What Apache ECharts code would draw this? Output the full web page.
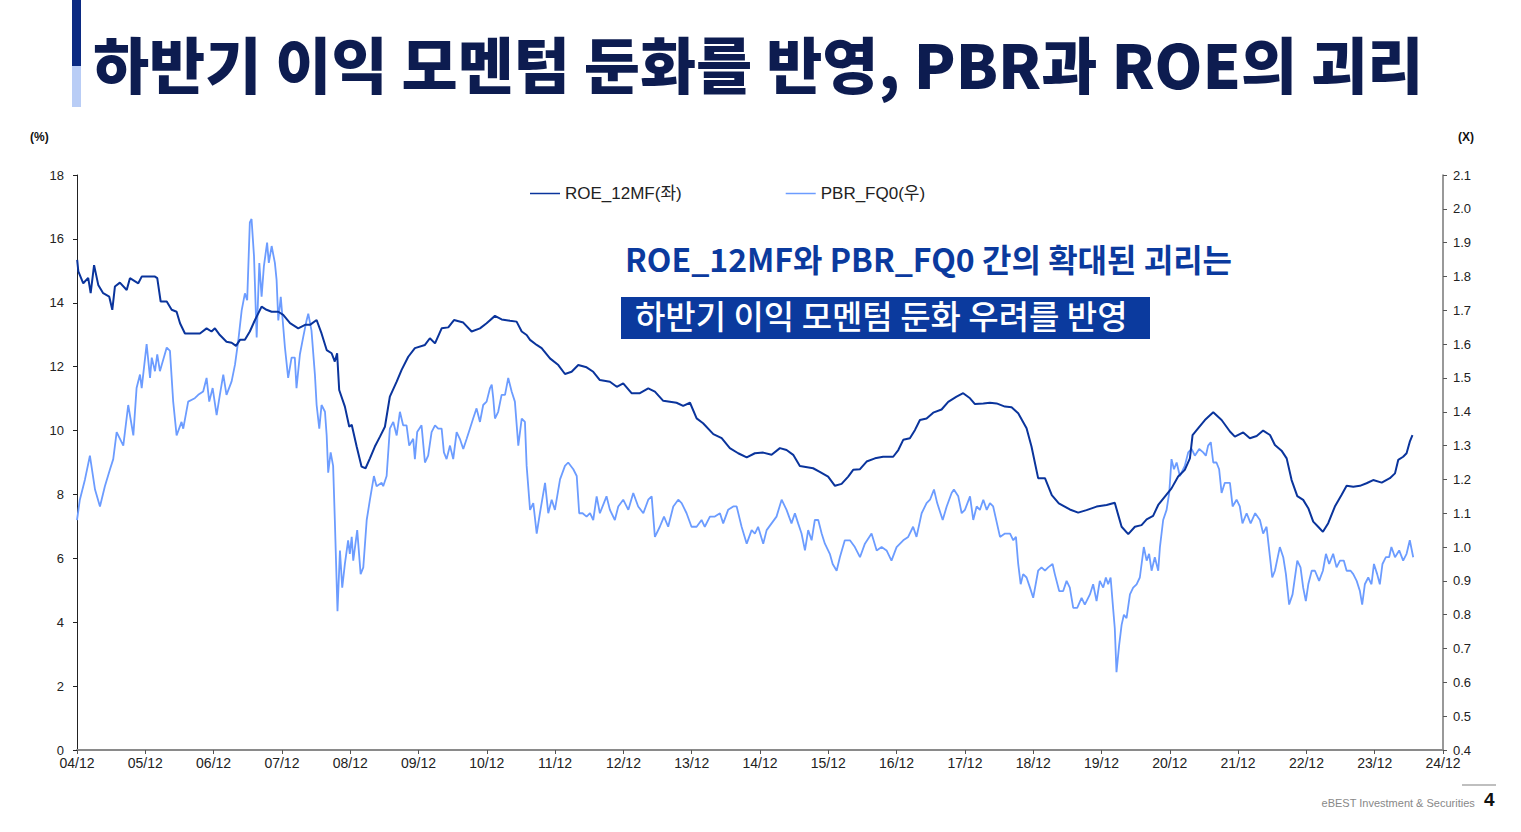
<!DOCTYPE html>
<html><head><meta charset="utf-8">
<script src="https://cdn.jsdelivr.net/npm/echarts@6/dist/echarts.min.js"></script>
<style>html,body{margin:0;padding:0;background:#fff;}#c{width:1521px;height:832px;}</style>
</head><body><div id="c"></div>
<script>
const xTickLabels = ['04/12','05/12','06/12','07/12','08/12','09/12','10/12','11/12','12/12','13/12','14/12','15/12','16/12','17/12','18/12','19/12','20/12','21/12','22/12','23/12','24/12'];
const leftTicks = [0,2,4,6,8,10,12,14,16,18];
const rightTicks = ['0.4','0.5','0.6','0.7','0.8','0.9','1.0','1.1','1.2','1.3','1.4','1.5','1.6','1.7','1.8','1.9','2.0','2.1'];

const roeDates = ['2004-12-02','2004-12-08','2005-01-04','2005-01-30','2005-02-13','2005-03-01','2005-03-23','2005-04-19','2005-05-21','2005-06-07','2005-06-21','2005-07-17','2005-08-23','2005-09-10','2005-10-24','2005-11-12','2006-01-22','2006-02-04','2006-02-22','2006-03-24','2006-04-20','2006-05-16','2006-06-04','2006-06-30','2006-08-14','2006-09-19','2006-10-24','2006-11-20','2006-12-08','2007-01-04','2007-02-09','2007-03-06','2007-03-29','2007-04-20','2007-05-16','2007-06-12','2007-07-09','2007-08-14','2007-09-10','2007-10-07','2007-11-12','2007-12-08','2008-01-14','2008-02-27','2008-04-03','2008-04-29','2008-06-04','2008-06-30','2008-07-27','2008-08-23','2008-09-10','2008-09-22','2008-10-03','2008-11-03','2008-11-26','2008-12-09','2009-01-05','2009-02-01','2009-02-22','2009-03-15','2009-04-11','2009-05-08','2009-06-04','2009-06-30','2009-08-06','2009-09-02','2009-10-07','2009-11-12','2010-01-05','2010-02-01','2010-02-28','2010-04-03','2010-05-08','2010-06-08','2010-07-27','2010-09-11','2010-10-25','2010-11-30','2011-01-14','2011-02-19','2011-04-03','2011-05-08','2011-06-05','2011-07-01','2011-07-19','2011-08-24','2011-09-20','2011-11-04','2011-12-18','2012-01-23','2012-02-28','2012-04-03','2012-05-17','2012-06-22','2012-07-27','2012-09-20','2012-10-26','2012-11-30','2013-01-14','2013-02-28','2013-04-12','2013-05-17','2013-07-01','2013-08-06','2013-09-11','2013-10-16','2013-11-22','2013-12-27','2014-02-01','2014-03-25','2014-05-09','2014-06-22','2014-08-06','2014-09-21','2014-11-04','2014-12-18','2015-02-02','2015-03-16','2015-04-21','2015-05-26','2015-07-01','2015-09-11','2015-10-16','2015-11-30','2016-01-06','2016-02-11','2016-03-16','2016-04-12','2016-05-18','2016-06-23','2016-08-07','2016-09-20','2016-11-13','2016-12-10','2017-01-06','2017-02-11','2017-03-08','2017-04-04','2017-05-09','2017-06-14','2017-07-28','2017-09-03','2017-10-17','2017-11-22','2017-12-28','2018-01-24','2018-03-08','2018-04-13','2018-05-18','2018-07-02','2018-08-07','2018-09-12','2018-10-26','2018-11-22','2018-12-27','2019-02-03','2019-03-09','2019-04-16','2019-06-14','2019-07-28','2019-09-12','2019-11-05','2019-12-28','2020-02-11','2020-02-29','2020-03-17','2020-04-22','2020-05-27','2020-07-02','2020-07-29','2020-09-03','2020-09-30','2020-11-05','2020-12-10','2021-01-15','2021-02-20','2021-03-17','2021-04-01','2021-04-30','2021-06-06','2021-07-20','2021-09-04','2021-10-18','2021-11-14','2021-12-28','2022-02-03','2022-03-09','2022-04-13','2022-05-19','2022-06-15','2022-07-20','2022-08-17','2022-09-13','2022-10-13','2022-11-14','2022-12-11','2023-01-07','2023-02-03','2023-02-28','2023-03-26','2023-05-01','2023-06-06','2023-07-03','2023-08-08','2023-09-13','2023-10-18','2023-11-23','2024-01-08','2024-02-21','2024-03-18','2024-04-05','2024-05-01','2024-05-19','2024-06-06','2024-06-20'];
const roeValues = [15.34,14.98,14.61,14.78,14.30,15.18,14.56,14.30,14.19,13.78,14.51,14.63,14.40,14.77,14.61,14.82,14.82,14.77,14.04,14.04,13.78,13.72,13.36,13.04,13.04,13.04,13.20,13.10,13.20,12.99,12.78,12.75,12.65,12.84,12.84,13.10,13.46,13.88,13.78,13.72,13.72,13.62,13.36,13.20,13.31,13.31,13.46,13.04,12.52,12.42,12.16,12.42,11.27,10.75,10.12,10.18,9.50,8.87,8.82,9.13,9.50,9.81,10.12,11.06,11.53,11.90,12.31,12.58,12.68,12.89,12.73,13.20,13.23,13.46,13.38,13.10,13.20,13.36,13.59,13.48,13.44,13.41,13.10,12.99,12.84,12.68,12.58,12.26,12.05,11.77,11.84,12.05,11.98,11.84,11.58,11.53,11.37,11.48,11.17,11.17,11.32,11.22,10.93,10.90,10.87,10.77,10.87,10.38,10.23,9.89,9.76,9.45,9.29,9.16,9.29,9.31,9.24,9.45,9.39,9.24,8.89,8.82,8.71,8.56,8.27,8.33,8.56,8.77,8.79,9.03,9.13,9.18,9.18,9.39,9.71,9.76,10.02,10.33,10.38,10.56,10.66,10.90,11.06,11.17,11.01,10.83,10.85,10.87,10.85,10.75,10.73,10.54,10.07,9.50,8.51,8.51,7.98,7.72,7.53,7.43,7.51,7.62,7.67,7.74,7.36,6.99,6.76,6.99,7.04,7.22,7.33,7.67,7.93,8.19,8.56,8.77,9.13,9.86,10.07,10.33,10.57,10.33,9.97,9.81,9.94,9.76,9.83,10.00,9.86,9.55,9.37,9.13,8.45,7.95,7.83,7.57,7.15,6.99,6.83,7.10,7.62,7.98,8.27,8.24,8.27,8.35,8.45,8.37,8.51,8.66,9.08,9.18,9.29,9.65,9.86];

const pbrDates = ['2004-12-01','2004-12-16','2005-01-13','2005-02-09','2005-03-06','2005-04-02','2005-04-28','2005-05-25','2005-06-12','2005-06-30','2005-07-26','2005-08-05','2005-09-01','2005-09-28','2005-10-15','2005-11-03','2005-11-12','2005-12-08','2005-12-26','2006-01-05','2006-01-22','2006-02-04','2006-02-18','2006-03-24','2006-04-11','2006-04-28','2006-05-16','2006-06-12','2006-06-21','2006-07-17','2006-08-22','2006-09-10','2006-10-06','2006-10-24','2006-11-08','2006-11-26','2006-12-17','2007-01-04','2007-01-22','2007-02-09','2007-03-06','2007-03-24','2007-04-11','2007-04-29','2007-05-16','2007-05-28','2007-06-12','2007-06-21','2007-07-04','2007-07-18','2007-08-02','2007-08-14','2007-08-26','2007-09-13','2007-09-22','2007-10-07','2007-10-24','2007-11-03','2007-11-12','2007-11-25','2007-12-17','2008-01-04','2008-01-22','2008-02-09','2008-02-18','2008-03-06','2008-03-23','2008-04-11','2008-04-20','2008-05-07','2008-05-25','2008-06-04','2008-06-18','2008-06-30','2008-07-18','2008-07-27','2008-08-05','2008-08-18','2008-09-01','2008-09-10','2008-09-24','2008-10-07','2008-10-19','2008-11-03','2008-11-20','2008-11-29','2008-12-09','2008-12-17','2009-01-08','2009-01-26','2009-02-10','2009-02-28','2009-03-15','2009-04-06','2009-04-20','2009-05-17','2009-05-25','2009-06-13','2009-06-30','2009-07-18','2009-08-06','2009-08-23','2009-09-10','2009-09-28','2009-10-12','2009-11-03','2009-11-12','2009-11-24','2009-12-17','2010-01-05','2010-01-22','2010-02-10','2010-02-28','2010-03-15','2010-04-03','2010-04-15','2010-04-29','2010-05-17','2010-06-04','2010-06-22','2010-07-09','2010-07-27','2010-08-15','2010-09-02','2010-09-19','2010-10-07','2010-10-25','2010-11-12','2010-11-30','2010-12-18','2010-12-27','2011-01-05','2011-01-14','2011-02-01','2011-02-19','2011-03-07','2011-03-24','2011-04-12','2011-04-29','2011-05-17','2011-06-05','2011-06-22','2011-07-01','2011-07-19','2011-08-06','2011-08-24','2011-09-11','2011-10-08','2011-10-25','2011-11-13','2011-11-30','2011-12-27','2012-01-23','2012-02-10','2012-03-07','2012-03-25','2012-04-08','2012-04-26','2012-05-17','2012-06-05','2012-06-22','2012-07-10','2012-07-27','2012-09-02','2012-09-20','2012-10-16','2012-11-04','2012-11-30','2012-12-27','2013-01-23','2013-02-19','2013-03-16','2013-04-12','2013-04-30','2013-05-17','2013-06-13','2013-07-05','2013-07-27','2013-08-24','2013-09-20','2013-10-08','2013-11-04','2013-11-30','2013-12-27','2014-01-23','2014-02-10','2014-03-07','2014-04-03','2014-04-30','2014-05-17','2014-06-13','2014-07-10','2014-07-28','2014-08-24','2014-09-21','2014-10-17','2014-11-04','2014-11-21','2014-12-18','2015-01-06','2015-02-02','2015-02-28','2015-03-25','2015-04-21','2015-05-17','2015-06-05','2015-06-22','2015-07-10','2015-07-28','2015-08-15','2015-09-03','2015-09-20','2015-10-08','2015-10-26','2015-11-13','2015-12-09','2015-12-24','2016-01-15','2016-02-02','2016-02-28','2016-03-25','2016-04-21','2016-05-18','2016-06-14','2016-07-19','2016-08-16','2016-09-12','2016-10-08','2016-11-04','2016-12-01','2017-01-06','2017-02-02','2017-02-28','2017-03-16','2017-04-13','2017-05-09','2017-05-27','2017-06-18','2017-07-05','2017-08-04','2017-08-25','2017-09-21','2017-10-03','2017-10-26','2017-11-14','2017-12-01','2017-12-28','2018-01-15','2018-02-03','2018-02-20','2018-03-08','2018-03-26','2018-04-13','2018-04-30','2018-06-06','2018-07-02','2018-07-29','2018-08-16','2018-08-30','2018-09-12','2018-09-25','2018-10-08','2018-10-26','2018-11-14','2018-12-01','2018-12-27','2019-01-15','2019-02-03','2019-02-20','2019-03-13','2019-03-25','2019-04-18','2019-05-09','2019-05-27','2019-06-14','2019-07-02','2019-07-23','2019-08-16','2019-09-03','2019-09-30','2019-10-17','2019-11-05','2019-11-22','2019-12-10','2019-12-24','2020-01-06','2020-01-19','2020-02-02','2020-02-11','2020-02-20','2020-03-04','2020-03-17','2020-03-29','2020-04-13','2020-05-01','2020-05-18','2020-06-06','2020-06-23','2020-07-14','2020-07-29','2020-08-12','2020-08-25','2020-09-12','2020-09-30','2020-10-09','2020-10-26','2020-11-14','2020-11-28','2020-12-10','2020-12-23','2021-01-07','2021-01-24','2021-02-20','2021-03-08','2021-03-26','2021-04-13','2021-05-06','2021-05-27','2021-06-11','2021-06-23','2021-07-07','2021-07-20','2021-08-07','2021-08-21','2021-09-04','2021-09-21','2021-10-18','2021-11-02','2021-11-23','2021-12-10','2021-12-24','2022-01-16','2022-02-07','2022-03-01','2022-03-26','2022-04-13','2022-05-01','2022-05-19','2022-06-01','2022-06-15','2022-07-11','2022-07-29','2022-08-13','2022-08-30','2022-09-18','2022-10-13','2022-10-30','2022-11-14','2022-11-28','2022-12-11','2022-12-29','2023-01-16','2023-02-08','2023-02-28','2023-03-14','2023-04-01','2023-04-22','2023-05-10','2023-05-28','2023-06-18','2023-07-03','2023-07-24','2023-08-08','2023-08-26','2023-09-13','2023-09-25','2023-10-09','2023-10-27','2023-11-14','2023-11-27','2023-12-14','2023-12-28','2024-01-12','2024-01-30','2024-02-17','2024-02-29','2024-03-18','2024-04-10','2024-05-01','2024-05-19','2024-06-06','2024-06-24'];
const pbrValues = [1.08,1.14,1.20,1.27,1.17,1.12,1.18,1.23,1.26,1.34,1.31,1.30,1.42,1.33,1.47,1.51,1.47,1.60,1.50,1.56,1.52,1.57,1.52,1.59,1.58,1.43,1.33,1.37,1.35,1.43,1.44,1.45,1.46,1.50,1.43,1.47,1.39,1.45,1.51,1.45,1.49,1.54,1.61,1.70,1.75,1.73,1.96,1.97,1.86,1.62,1.84,1.74,1.83,1.90,1.84,1.89,1.84,1.79,1.67,1.74,1.59,1.50,1.56,1.56,1.47,1.57,1.62,1.67,1.69,1.64,1.51,1.42,1.35,1.42,1.40,1.33,1.22,1.28,1.24,1.08,0.81,0.99,0.88,0.95,1.02,0.98,1.03,0.96,1.05,0.92,0.94,1.08,1.14,1.21,1.18,1.19,1.18,1.21,1.35,1.37,1.33,1.40,1.36,1.36,1.30,1.32,1.26,1.34,1.36,1.25,1.27,1.34,1.36,1.35,1.35,1.28,1.26,1.30,1.26,1.34,1.32,1.29,1.32,1.35,1.38,1.41,1.37,1.42,1.43,1.47,1.48,1.44,1.38,1.40,1.45,1.45,1.50,1.46,1.43,1.30,1.38,1.37,1.24,1.11,1.13,1.04,1.10,1.19,1.10,1.14,1.11,1.20,1.24,1.25,1.23,1.21,1.10,1.10,1.09,1.10,1.08,1.15,1.10,1.15,1.11,1.08,1.12,1.14,1.11,1.16,1.12,1.10,1.14,1.15,1.03,1.06,1.09,1.06,1.12,1.14,1.13,1.10,1.06,1.06,1.08,1.06,1.09,1.09,1.10,1.07,1.11,1.12,1.12,1.06,1.01,1.05,1.04,1.06,1.01,1.05,1.07,1.09,1.14,1.11,1.07,1.10,1.07,1.04,0.99,1.05,1.02,1.08,1.08,1.04,1.01,0.98,0.95,0.93,0.97,1.02,1.02,1.00,0.97,1.01,1.04,0.99,1.00,0.99,0.96,1.00,1.02,1.03,1.06,1.03,1.10,1.13,1.14,1.17,1.13,1.08,1.12,1.16,1.17,1.15,1.10,1.11,1.15,1.08,1.12,1.11,1.14,1.11,1.13,1.12,1.03,1.04,1.04,1.02,1.03,0.95,0.89,0.92,0.91,0.88,0.85,0.93,0.94,0.93,0.94,0.95,0.92,0.87,0.87,0.90,0.88,0.82,0.82,0.85,0.83,0.86,0.89,0.84,0.90,0.88,0.91,0.89,0.91,0.82,0.76,0.63,0.71,0.77,0.80,0.79,0.86,0.88,0.89,0.91,1.00,0.96,0.98,0.93,0.97,0.93,1.00,1.08,1.11,1.16,1.26,1.23,1.25,1.21,1.24,1.28,1.29,1.27,1.29,1.28,1.27,1.30,1.31,1.25,1.25,1.23,1.16,1.19,1.19,1.12,1.14,1.12,1.07,1.10,1.07,1.10,1.08,1.04,1.06,0.97,0.91,0.93,1.00,0.97,0.92,0.83,0.86,0.96,0.94,0.88,0.84,0.89,0.93,0.93,0.90,0.93,0.98,0.95,0.98,0.94,0.96,0.96,0.93,0.93,0.92,0.90,0.87,0.83,0.89,0.91,0.89,0.95,0.92,0.89,0.95,0.97,0.97,1.00,0.97,0.99,0.96,0.98,1.02,0.97];

const seriesNames = ['ROE_12MF(좌)', 'PBR_FQ0(우)'];

function monthIndex(s) {
  const p = s.split('-').map(Number);
  return (p[0] - 2004) * 12 + (p[1] - 12) + (p[2] - 1) / 30;
}
function pairs(dates, vals) {
  const n = Math.min(dates.length, vals.length);
  const out = [];
  for (let i = 0; i < n; i++) out.push([monthIndex(dates[i]), vals[i]]);
  return out;
}

const ROE_COLOR = '#0a349c';
const PBR_COLOR = '#6c9cff';
const FONT = "'Liberation Sans', Arial, 'Noto Sans CJK KR', sans-serif";
const KR = "'Noto Sans CJK KR', sans-serif";

const chart = echarts.init(document.getElementById('c'), null, { renderer: 'svg' });
chart.setOption({
  animation: false,
  backgroundColor: '#ffffff',
  textStyle: { fontFamily: FONT },
  grid: { left: 77, right: 78, top: 175, bottom: 82, containLabel: false },
  legend: {
    left: 530, top: 185, padding: 0, itemGap: 104, itemWidth: 30, itemHeight: 1.5, icon: 'rect',
    textStyle: { fontSize: 17, color: '#222', fontFamily: FONT },
    data: seriesNames
  },
  xAxis: {
    type: 'value', min: 0, max: 240, interval: 12,
    axisLine: { show: true, lineStyle: { color: '#8a8a8a', width: 2 } },
    axisTick: { show: true, length: 4, lineStyle: { color: '#555', width: 1 } },
    axisLabel: { color: '#222', fontSize: 14, margin: 6,
      formatter: v => xTickLabels[Math.round(v / 12)] },
    splitLine: { show: false }
  },
  yAxis: [
    { type: 'value', min: 0, max: 18, interval: 2, position: 'left',
      axisLine: { show: true, lineStyle: { color: '#222', width: 1 } },
      axisTick: { show: true, length: 4, lineStyle: { color: '#222' } },
      axisLabel: { color: '#222', fontSize: 13, margin: 13,
        formatter: v => String(leftTicks[Math.round(v / 2)]) },
      splitLine: { show: false } },
    { type: 'value', min: 0.4, max: 2.1, interval: 0.1, position: 'right',
      axisLine: { show: true, lineStyle: { color: '#777', width: 1.5 } },
      axisTick: { show: true, length: 4, lineStyle: { color: '#555' } },
      axisLabel: { color: '#222', fontSize: 13, margin: 10,
        formatter: v => rightTicks[Math.round((v - 0.4) * 10)] },
      splitLine: { show: false } }
  ],
  series: [
    { name: seriesNames[1], type: 'line', yAxisIndex: 1, showSymbol: false, symbol: 'none',
      data: pairs(pbrDates, pbrValues), lineStyle: { color: PBR_COLOR, width: 1.8 },
      itemStyle: { color: PBR_COLOR }, z: 2 },
    { name: seriesNames[0], type: 'line', yAxisIndex: 0, showSymbol: false, symbol: 'none',
      data: pairs(roeDates, roeValues), lineStyle: { color: ROE_COLOR, width: 2 },
      itemStyle: { color: ROE_COLOR }, z: 3 }
  ],
  graphic: [
    { type: 'rect', shape: { x: 72, y: 0, width: 9, height: 66 }, style: { fill: '#0b2a82' }, silent: true },
    { type: 'rect', shape: { x: 72, y: 66, width: 9, height: 41 }, style: { fill: '#b9cdf6' }, silent: true },
    { type: 'text', left: 93, top: 32, style: { text: '하반기 이익 모멘텀 둔화를 반영, PBR과 ROE의 괴리',
      fontSize: 61, fontWeight: 900, fill: '#0d1c50', fontFamily: KR } },
    { type: 'text', left: 30, top: 131, style: { text: '(%)', fontSize: 12, fontWeight: 'bold', fill: '#111', fontFamily: FONT } },
    { type: 'text', left: 1458, top: 131, style: { text: '(X)', fontSize: 12, fontWeight: 'bold', fill: '#111', fontFamily: FONT } },
    { type: 'text', left: 625, top: 242, style: { text: 'ROE_12MF와 PBR_FQ0 간의 확대된 괴리는',
      fontSize: 32, fontWeight: 'bold', fill: '#0b3a9e', fontFamily: KR } },
    { type: 'rect', shape: { x: 621, y: 297, width: 529, height: 42 }, style: { fill: '#0b3a9e' }, silent: true },
    { type: 'text', left: 635, top: 298, style: { text: '하반기 이익 모멘텀 둔화 우려를 반영',
      fontSize: 33, fontWeight: 500, fill: '#ffffff', fontFamily: KR } },
    { type: 'line', shape: { x1: 1462, y1: 785, x2: 1496, y2: 785 }, style: { stroke: '#aaa', lineWidth: 1.5 }, silent: true },
    { type: 'text', right: 46, top: 797, style: { text: 'eBEST Investment & Securities', fontSize: 11, fill: '#888', fontFamily: FONT } },
    { type: 'text', left: 1484, top: 790, style: { text: '4', fontSize: 19, fontWeight: 'bold', fill: '#111', fontFamily: FONT } }
  ]
});
</script>
</body></html>
